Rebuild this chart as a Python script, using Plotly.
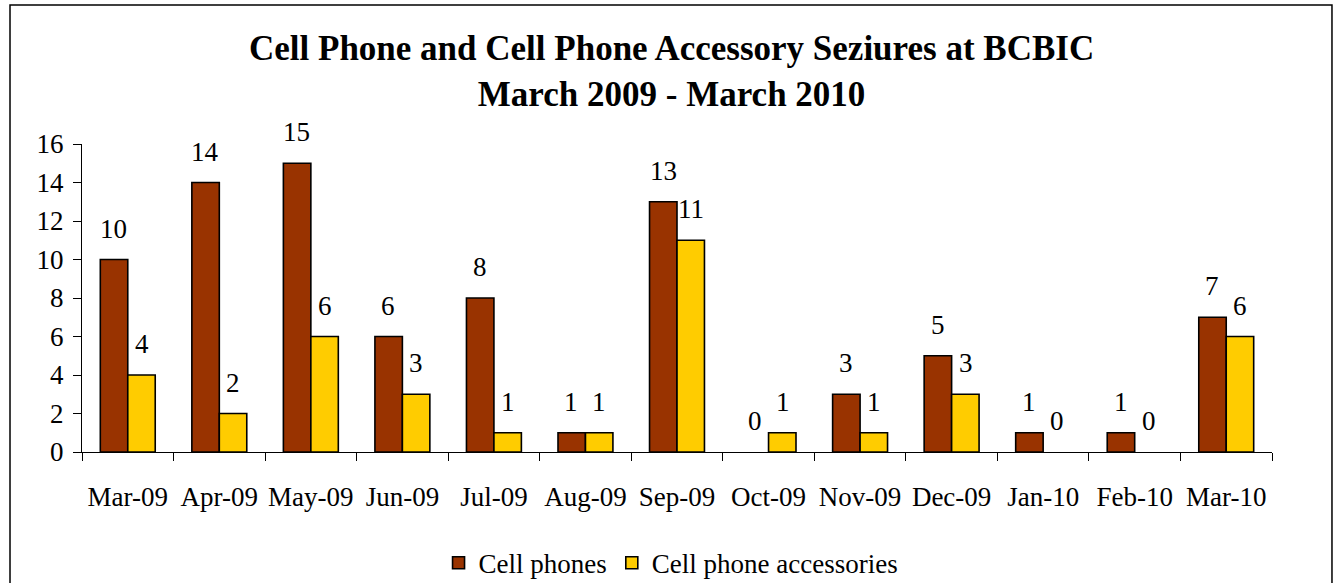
import plotly.graph_objects as go

months = ["Mar-09", "Apr-09", "May-09", "Jun-09", "Jul-09", "Aug-09", "Sep-09",
          "Oct-09", "Nov-09", "Dec-09", "Jan-10", "Feb-10", "Mar-10"]
cell_phones = [10, 14, 15, 6, 8, 1, 13, 0, 3, 5, 1, 1, 7]
accessories = [4, 2, 6, 3, 1, 1, 11, 1, 1, 3, 0, 0, 6]
y_ticks = [0, 2, 4, 6, 8, 10, 12, 14, 16]

FONT = "Liberation Serif"
FS = 27
RED = "#993300"
YELLOW = "#FFCC00"


def outline(values):
    return [1.6 if v > 0 else 0 for v in values]


fig = go.Figure()
fig.add_trace(go.Bar(x=months, y=cell_phones, name="Cell phones",
                     marker=dict(color=RED, line=dict(color="black", width=outline(cell_phones)))))
fig.add_trace(go.Bar(x=months, y=accessories, name="Cell phone accessories",
                     marker=dict(color=YELLOW, line=dict(color="black", width=outline(accessories)))))

annotations = []
for m, v in zip(months, cell_phones):
    annotations.append(dict(x=m, y=v, text=str(v), showarrow=False, xshift=-14, yshift=31,
                            yanchor="middle", font=dict(family=FONT, size=FS, color="black")))
for m, v in zip(months, accessories):
    annotations.append(dict(x=m, y=v, text=str(v), showarrow=False, xshift=14, yshift=31,
                            yanchor="middle", font=dict(family=FONT, size=FS, color="black")))
annotations.append(dict(x=0.495, y=1.234, xref="paper", yref="paper", showarrow=False,
                        text="<b>Cell Phone and Cell Phone Accessory Seziures at BCBIC<br>March 2009 - March 2010</b>",
                        xanchor="center", yanchor="middle",
                        font=dict(family=FONT, size=35, color="black")))

fig.update_layout(
    width=1338, height=583,
    margin=dict(l=82, r=66, t=144, b=131, autoexpand=False),
    paper_bgcolor="white", plot_bgcolor="white",
    barmode="group", bargap=0.4, bargroupgap=0,
    font=dict(family=FONT, size=FS, color="black"),
    showlegend=True,
    legend=dict(orientation="h", x=0.495, xanchor="center", yref="container", y=0.034, yanchor="middle",
                font=dict(family=FONT, size=FS, color="black"), itemwidth=30,
                traceorder="normal", bgcolor="rgba(0,0,0,0)"),
    annotations=annotations,
    shapes=[dict(type="rect", xref="paper", yref="paper",
                 x0=-0.0605, x1=1.0504, y0=-0.46, y1=1.451,
                 line=dict(color="black", width=1.5), fillcolor="rgba(0,0,0,0)", layer="below")],
)
fig.update_xaxes(showline=True, linecolor="black", linewidth=1.2, ticks="outside",
                 tickson="boundaries", ticklen=8, tickcolor="black", showgrid=False, tickangle=0,
                 ticklabelstandoff=20, tickfont=dict(family=FONT, size=FS), automargin=False)
fig.update_yaxes(range=[0, 16], tickvals=y_ticks, showline=True, linecolor="black", linewidth=1.2,
                 ticks="outside", ticklen=8, tickcolor="black", showgrid=False, zeroline=False,
                 tickfont=dict(family=FONT, size=FS), ticklabelstandoff=4, automargin=False)

fig.write_html("out.html", config={"displayModeBar": False},
               post_script="document.body.style.margin='0';document.body.style.overflow='hidden';")
